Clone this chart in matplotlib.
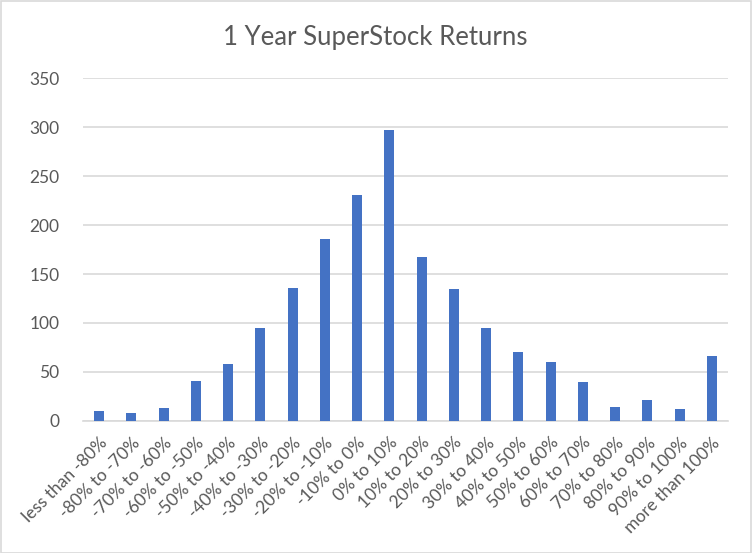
import matplotlib
matplotlib.use("Agg")
import matplotlib.pyplot as plt
from matplotlib.patches import Rectangle

categories = ["less than -80%", "-80% to -70%", "-70% to -60%", "-60% to -50%",
              "-50% to -40%", "-40% to -30%", "-30% to -20%", "-20% to -10%",
              "-10% to 0%", "0% to 10%", "10% to 20%", "20% to 30%",
              "30% to 40%", "40% to 50%", "50% to 60%", "60% to 70%",
              "70% to 80%", "80% to 90%", "90% to 100%", "more than 100%"]
counts = [10, 8, 13, 41, 58, 95, 136, 186, 231, 297, 167, 135, 95, 70, 60, 40, 14, 21, 12, 66]
yticks = [0, 50, 100, 150, 200, 250, 300, 350]

plt.rcParams['font.family'] = ['Lato', 'DejaVu Sans']
fig = plt.figure(figsize=(7.52, 5.53), dpi=100)
W, H = 752, 553
ax = fig.add_axes([83 / W, 1 - 420.7 / H, (728 - 83) / W, (420.7 - 78.5) / H])

x = list(range(len(categories)))
ax.bar(x, counts, width=0.31, color='#4472C4', zorder=3)
ax.set_xlim(-0.5, len(categories) - 0.5)
ax.set_ylim(0, 350)
ax.set_yticks(yticks)
ax.set_yticklabels([str(v) for v in yticks], fontsize=12.5, color='#595959')
ax.set_xticks(x)
ax.set_xticklabels(categories, rotation=45, ha='right', rotation_mode='anchor',
                   fontsize=12.5, color='#595959')
ax.yaxis.grid(True, color='#d9d9d9', linewidth=1.2, zorder=0)
ax.tick_params(axis='both', length=0)
ax.tick_params(axis='y', pad=17)
ax.tick_params(axis='x', pad=10)
for s in ['top', 'right', 'left']:
    ax.spines[s].set_visible(False)
ax.spines['bottom'].set_color('#d9d9d9')
ax.spines['bottom'].set_linewidth(1.2)
ax.set_axisbelow(True)

fig.text(375 / W, 1 - 37 / H, "1 Year SuperStock Returns", ha='center', va='center',
         fontsize=18.5, color='#595959')
fig.patches.append(Rectangle((0.5 / W, 0.5 / H), 1 - 1.5 / W, 1 - 1.5 / H,
                             transform=fig.transFigure, fill=False,
                             edgecolor='#d9d9d9', linewidth=1.2))
fig.savefig("out.png", dpi=100)
